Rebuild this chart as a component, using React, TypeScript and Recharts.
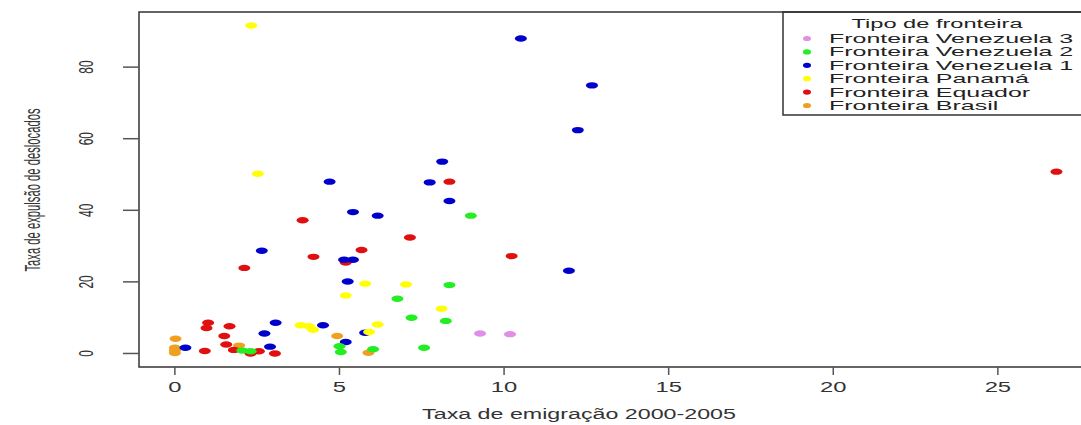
import { ScatterChart, Scatter, XAxis, YAxis, ReferenceArea } from 'recharts';

// pontos (taxa de emigração, taxa de expulsão)
const brasil = [
  { x: 0.02, y: 4.1 }, { x: 0, y: 1.6 }, { x: 0, y: 0.8 }, { x: 0, y: 0.1 },
  { x: 1.95, y: 2.2 }, { x: 4.93, y: 4.9 }, { x: 5.88, y: 0.2 },
];
const equador = [
  { x: 8.34, y: 48.0 }, { x: 3.88, y: 37.2 }, { x: 7.14, y: 32.4 }, { x: 5.67, y: 28.9 },
  { x: 4.21, y: 27.0 }, { x: 10.23, y: 27.2 }, { x: 2.11, y: 23.9 }, { x: 5.19, y: 25.4 },
  { x: 1.01, y: 8.6 }, { x: 0.96, y: 7.1 }, { x: 1.66, y: 7.6 }, { x: 1.5, y: 4.9 },
  { x: 1.56, y: 2.5 }, { x: 0.91, y: 0.7 }, { x: 1.79, y: 1.0 }, { x: 2.3, y: 0 },
  { x: 2.55, y: 0.6 }, { x: 3.04, y: 0 }, { x: 26.78, y: 50.8 },
];
const panama = [
  { x: 2.32, y: 91.6 }, { x: 2.52, y: 50.2 }, { x: 5.78, y: 19.5 }, { x: 7.02, y: 19.3 },
  { x: 5.19, y: 16.2 }, { x: 8.1, y: 12.5 }, { x: 3.82, y: 7.9 }, { x: 4.07, y: 7.6 },
  { x: 4.2, y: 6.6 }, { x: 6.16, y: 8.1 }, { x: 5.9, y: 6.0 },
];
const venezuela1 = [
  { x: 10.51, y: 88.0 }, { x: 12.67, y: 74.9 }, { x: 12.24, y: 62.4 }, { x: 8.12, y: 53.6 },
  { x: 4.7, y: 48.0 }, { x: 7.74, y: 47.8 }, { x: 8.34, y: 42.6 }, { x: 5.41, y: 39.5 },
  { x: 6.16, y: 38.5 }, { x: 2.64, y: 28.7 }, { x: 11.97, y: 23.1 }, { x: 5.14, y: 26.2 },
  { x: 5.41, y: 26.2 }, { x: 5.25, y: 20.1 }, { x: 3.06, y: 8.6 }, { x: 4.5, y: 7.9 },
  { x: 2.72, y: 5.6 }, { x: 0.32, y: 1.6 }, { x: 2.89, y: 1.9 }, { x: 5.19, y: 3.2 },
  { x: 5.78, y: 5.8 },
];
const venezuela2 = [
  { x: 8.99, y: 38.5 }, { x: 8.34, y: 19.1 }, { x: 6.76, y: 15.3 }, { x: 7.19, y: 10.0 },
  { x: 8.23, y: 9.1 }, { x: 2.05, y: 0.8 }, { x: 2.3, y: 0.6 }, { x: 5.0, y: 2.0 },
  { x: 5.04, y: 0.4 }, { x: 6.02, y: 1.2 }, { x: 7.57, y: 1.6 },
];
const venezuela3 = [
  { x: 9.27, y: 5.6 }, { x: 10.18, y: 5.4 },
];

const xTicks = [0, 5, 10, 15, 20, 25];
const yTicks = [0, 20, 40, 60, 80];

// ordem de desenho (Panamá por cima da Venezuela 1)
const series = [
  { name: 'Fronteira Brasil', data: brasil, color: '#f0a020' },
  { name: 'Fronteira Equador', data: equador, color: '#e01010' },
  { name: 'Fronteira Venezuela 1', data: venezuela1, color: '#0000cc' },
  { name: 'Fronteira Panamá', data: panama, color: '#ffff00' },
  { name: 'Fronteira Venezuela 2', data: venezuela2, color: '#22ee22' },
  { name: 'Fronteira Venezuela 3', data: venezuela3, color: '#e08ee6' },
];
const legendNames = [
  'Fronteira Venezuela 3',
  'Fronteira Venezuela 2',
  'Fronteira Venezuela 1',
  'Fronteira Panamá',
  'Fronteira Equador',
  'Fronteira Brasil',
];

const X_DOMAIN: [number, number] = [-1.09, 27.89];
const Y_DOMAIN: [number, number] = [-3.78, 95.4];
const INK = '#333';
const FONT = '"Liberation Sans", Arial, sans-serif';

function Dot(props: any) {
  const { cx, cy, fill } = props;
  if (cx == null || cy == null) return null;
  return <ellipse cx={cx} cy={cy} rx={6} ry={3.2} fill={fill} />;
}

function XTick(props: any) {
  const { x, y, payload } = props;
  return (
    <text
      transform={`translate(${x},${y + 15}) scale(1.7,1)`}
      textAnchor="middle"
      fontSize={14}
      fontFamily={FONT}
      fill={INK}
    >
      {payload.value}
    </text>
  );
}

function YTick(props: any) {
  const { y, payload } = props;
  return (
    <text
      transform={`translate(93,${y}) rotate(-90) scale(0.8,1.4)`}
      textAnchor="middle"
      fontSize={15}
      fontFamily={FONT}
      fill={INK}
    >
      {payload.value}
    </text>
  );
}

function LegendBox() {
  return (
    <g>
      <rect x={783} y={12} width={400} height={103} fill="#fff" stroke={INK} strokeWidth={1.5} />
      <text
        transform="translate(937,28) scale(1.75,1)"
        textAnchor="middle"
        fontSize={13.5}
        fontFamily={FONT}
        fill="#222"
      >
        Tipo de fronteira
      </text>
      {legendNames.map((name, i) => {
        const color = series.find((s) => s.name === name)?.color;
        return (
          <g key={name}>
            <ellipse cx={807} cy={38.5 + i * 13.4} rx={4} ry={2.6} fill={color} />
            <text
              transform={`translate(829,${43 + i * 13.4}) scale(1.85,1)`}
              fontSize={13.5}
              fontFamily={FONT}
              fill="#222"
            >
              {name}
            </text>
          </g>
        );
      })}
    </g>
  );
}

export default function App() {
  return (
    <div
      style={{
        position: 'fixed',
        left: 0,
        top: 0,
        width: 1081,
        height: 425,
        overflow: 'hidden',
        background: '#fff',
      }}
    >
      <ScatterChart width={1110} height={425} margin={{ top: 12, right: 17, bottom: 0, left: 0 }}>
        <XAxis
          type="number"
          dataKey="x"
          domain={X_DOMAIN}
          ticks={xTicks}
          allowDataOverflow
          height={58}
          axisLine={false}
          tickLine={{ stroke: '#555', strokeWidth: 1.5 }}
          tickSize={8}
          tickMargin={2}
          tick={<XTick />}
        />
        <YAxis
          type="number"
          dataKey="y"
          domain={Y_DOMAIN}
          ticks={yTicks}
          allowDataOverflow
          width={139}
          axisLine={false}
          tickLine={{ stroke: '#555', strokeWidth: 1.5 }}
          tickSize={16}
          tickMargin={2}
          tick={<YTick />}
        />
        <ReferenceArea
          x1={X_DOMAIN[0]}
          x2={X_DOMAIN[1]}
          y1={Y_DOMAIN[0]}
          y2={Y_DOMAIN[1]}
          fill="none"
          fillOpacity={0}
          stroke={INK}
          strokeWidth={1.5}
          ifOverflow="visible"
        />
        {series.map((s) => (
          <Scatter
            key={s.name}
            name={s.name}
            data={s.data}
            fill={s.color}
            shape={<Dot />}
            isAnimationActive={false}
          />
        ))}
        <LegendBox />
        <text
          transform="translate(579,419) scale(1.55,1)"
          textAnchor="middle"
          fontSize={15}
          fontFamily={FONT}
          fill={INK}
        >
          Taxa de emigração 2000-2005
        </text>
        <text
          transform="translate(40,190) rotate(-90) scale(0.75,1.45)"
          textAnchor="middle"
          fontSize={15}
          fontFamily={FONT}
          fill={INK}
        >
          Taxa de expulsão de deslocados
        </text>
      </ScatterChart>
    </div>
  );
}
